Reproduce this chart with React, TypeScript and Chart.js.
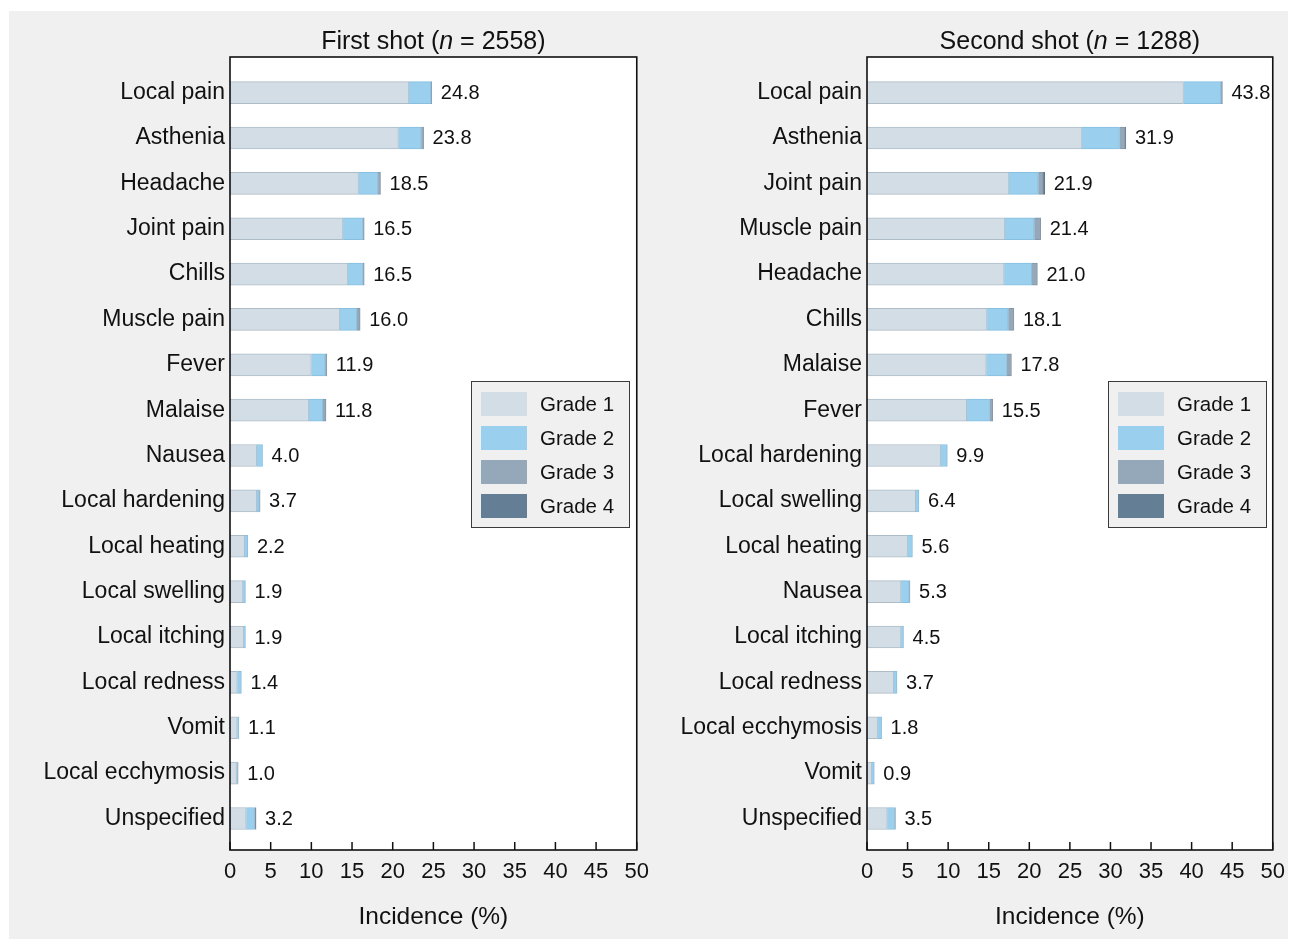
import React, { useEffect, useRef } from 'react';
import { Chart, registerables } from 'chart.js';
Chart.register(...registerables);

const FONT = "'Liberation Sans', Arial, sans-serif";
const GRADE_LABELS = ['Grade 1', 'Grade 2', 'Grade 3', 'Grade 4'];
const GRADE_COLORS = ['#d3dde5', '#9acfee', '#95a8b9', '#647f95'];
const GRADE_BORDERS = ['#aebcc8', '#86bfe0', '#8597a8', '#5a7388'];
const X_TICKS_MIN = 0;
const X_TICKS_MAX = 50;
const X_STEP = 5;

// First shot
const categories1 = ['Local pain', 'Asthenia', 'Headache', 'Joint pain', 'Chills', 'Muscle pain', 'Fever', 'Malaise', 'Nausea', 'Local hardening', 'Local heating', 'Local swelling', 'Local itching', 'Local redness', 'Vomit', 'Local ecchymosis', 'Unspecified'];
const totals1 = [24.8, 23.8, 18.5, 16.5, 16.5, 16.0, 11.9, 11.8, 4.0, 3.7, 2.2, 1.9, 1.9, 1.4, 1.1, 1.0, 3.2];
const grade1_1 = [22.0, 20.7, 15.8, 13.9, 14.5, 13.5, 10.0, 9.7, 3.3, 3.3, 1.8, 1.6, 1.7, 0.9, 0.9, 0.8, 2.0];
const grade2_1 = [2.7, 2.8, 2.4, 2.4, 1.8, 2.1, 1.7, 1.7, 0.7, 0.3, 0.4, 0.3, 0.2, 0.5, 0.2, 0.1, 1.0];
const grade3_1 = [0.1, 0.3, 0.3, 0.2, 0.2, 0.4, 0.2, 0.4, 0, 0.1, 0, 0, 0, 0, 0, 0.1, 0.1];
const grade4_1 = [0, 0, 0, 0, 0, 0, 0, 0, 0, 0, 0, 0, 0, 0, 0, 0, 0.1];

// Second shot
const categories2 = ['Local pain', 'Asthenia', 'Joint pain', 'Muscle pain', 'Headache', 'Chills', 'Malaise', 'Fever', 'Local hardening', 'Local swelling', 'Local heating', 'Nausea', 'Local itching', 'Local redness', 'Local ecchymosis', 'Vomit', 'Unspecified'];
const totals2 = [43.8, 31.9, 21.9, 21.4, 21.0, 18.1, 17.8, 15.5, 9.9, 6.4, 5.6, 5.3, 4.5, 3.7, 1.8, 0.9, 3.5];
const grade1_2 = [39.0, 26.5, 17.5, 17.0, 16.9, 14.8, 14.7, 12.3, 9.1, 6.0, 5.0, 4.2, 4.2, 3.3, 1.3, 0.6, 2.5];
const grade2_2 = [4.6, 4.6, 3.6, 3.6, 3.4, 2.6, 2.5, 2.8, 0.8, 0.4, 0.6, 1.0, 0.3, 0.4, 0.5, 0.3, 0.9];
const grade3_2 = [0.2, 0.7, 0.6, 0.8, 0.7, 0.7, 0.6, 0.4, 0, 0, 0, 0.1, 0, 0, 0, 0, 0.1];
const grade4_2 = [0, 0.1, 0.2, 0, 0, 0, 0, 0, 0, 0, 0, 0, 0, 0, 0, 0, 0];

type PanelProps = {
  left: number;
  width: number;
  yAxisWidth: number;
  padRight: number;
  titleN: string;
  titleLead: string;
  categories: string[];
  grades: number[][];
  totals: number[];
};

function Panel(props: PanelProps) {
  const ref = useRef<HTMLCanvasElement | null>(null);
  useEffect(() => {
    const canvas = ref.current;
    if (!canvas) return;
    const { categories, grades, totals, yAxisWidth, padRight, titleLead, titleN } = props;

    const decor = {
      id: 'decor',
      beforeDraw(chart: any) {
        const { ctx, chartArea: a } = chart;
        ctx.save();
        ctx.fillStyle = '#ffffff';
        ctx.fillRect(a.left, a.top, a.right - a.left, a.bottom - a.top);
        ctx.restore();
      },
      afterDraw(chart: any) {
        const { ctx, chartArea: a } = chart;
        const xs = chart.scales.x;
        const ys = chart.scales.y;
        ctx.save();
        // inner tick marks
        ctx.strokeStyle = '#111';
        ctx.lineWidth = 1.5;
        xs.ticks.forEach((t: any) => {
          const px = xs.getPixelForValue(t.value);
          ctx.beginPath();
          ctx.moveTo(px, a.bottom);
          ctx.lineTo(px, a.bottom - 8);
          ctx.stroke();
        });
        // frame
        ctx.lineWidth = 1.6;
        ctx.strokeRect(a.left, a.top, a.right - a.left, a.bottom - a.top);
        // data labels
        ctx.fillStyle = '#111';
        ctx.font = `20px ${FONT}`;
        ctx.textAlign = 'left';
        ctx.textBaseline = 'middle';
        totals.forEach((v, i) => {
          ctx.fillText(v.toFixed(1), xs.getPixelForValue(v) + 9, ys.getPixelForValue(i) + 1);
        });
        // title
        const titleY = a.top - 15;
        const cx = (a.left + a.right) / 2;
        const normal = `25px ${FONT}`;
        const italic = `italic 25px ${FONT}`;
        const parts: [string, string][] = [[titleLead + ' (', normal], ['n', italic], [' = ' + titleN + ')', normal]];
        let total = 0;
        parts.forEach(([t, f]) => { ctx.font = f; total += ctx.measureText(t).width; });
        let x = cx - total / 2;
        ctx.textBaseline = 'middle';
        parts.forEach(([t, f]) => { ctx.font = f; ctx.fillText(t, x, titleY); x += ctx.measureText(t).width; });
        // legend
        const bx = a.left + 241;
        const by = a.top + 324;
        const bw = 158;
        const bh = 146;
        ctx.fillStyle = '#f0f0f0';
        ctx.fillRect(bx, by, bw, bh);
        ctx.strokeStyle = '#3a3a3a';
        ctx.lineWidth = 1;
        ctx.strokeRect(bx + 0.5, by + 0.5, bw, bh);
        chart.data.datasets.forEach((ds: any, i: number) => {
          const cy = by + 23 + i * 34;
          ctx.fillStyle = ds.backgroundColor;
          ctx.fillRect(bx + 10, cy - 12, 46, 24);
          ctx.fillStyle = '#111';
          ctx.font = `20.5px ${FONT}`;
          ctx.textAlign = 'left';
          ctx.textBaseline = 'middle';
          ctx.fillText(ds.label, bx + 69, cy + 1);
        });
        ctx.restore();
      },
    };

    const chart = new Chart(canvas, {
      type: 'bar',
      data: {
        datasets: grades.map((g, gi) => ({
          label: GRADE_LABELS[gi],
          data: g.map((v, i) => ({ x: v, y: i })),
          backgroundColor: GRADE_COLORS[gi],
          borderColor: GRADE_BORDERS[gi],
          borderWidth: 1,
          barThickness: 22,
        })),
      },
      options: {
        indexAxis: 'y',
        animation: false,
        responsive: false,
        events: [],
        layout: { padding: { top: 46, right: padRight, bottom: 0, left: 0 } },
        plugins: { legend: { display: false }, tooltip: { enabled: false }, title: { display: false } },
        scales: {
          x: {
            type: 'linear',
            stacked: true,
            min: X_TICKS_MIN,
            max: X_TICKS_MAX,
            offset: false,
            grid: { display: false, drawTicks: false },
            border: { display: false },
            ticks: { stepSize: X_STEP, padding: 9, color: '#111', font: { family: FONT, size: 22 }, maxRotation: 0 },
            title: { display: true, text: 'Incidence (%)', color: '#111', font: { family: FONT, size: 24.5 }, padding: { top: 0, bottom: 7 } },
            afterFit: (s: any) => { s.height = 89; },
          },
          y: {
            type: 'linear',
            stacked: true,
            reverse: true,
            offset: false,
            min: -0.785,
            max: 16.695,
            grid: { display: false, drawTicks: false },
            border: { display: false },
            ticks: {
              stepSize: 1,
              autoSkip: false,
              includeBounds: false,
              padding: 5,
              color: '#111',
              font: { family: FONT, size: 23 },
              callback: (v: any) => (Number.isInteger(v) && categories[v] !== undefined ? categories[v] : ''),
            },
            afterFit: (s: any) => { s.width = yAxisWidth; },
          },
        },
      } as any,
      plugins: [decor],
    });
    return () => chart.destroy();
  }, []);
  return (
    <canvas
      ref={ref}
      width={props.width}
      height={928}
      style={{ position: 'absolute', left: props.left, top: 0, width: props.width, height: 928 }}
    />
  );
}

export default function App() {
  return (
    <div style={{ position: 'fixed', left: 0, top: 0, width: 1289, height: 939, background: '#ffffff', overflow: 'hidden' }}>
      <div style={{ position: 'absolute', left: 9, top: 11, width: 1279, height: 928, background: '#f0f0f0', overflow: 'hidden' }}>
        <Panel
          left={0}
          width={649}
          yAxisWidth={221}
          padRight={21}
          titleLead="First shot"
          titleN="2558"
          categories={categories1}
          grades={[grade1_1, grade2_1, grade3_1, grade4_1]}
          totals={totals1}
        />
        <Panel
          left={640}
          width={645}
          yAxisWidth={218}
          padRight={21}
          titleLead="Second shot"
          titleN="1288"
          categories={categories2}
          grades={[grade1_2, grade2_2, grade3_2, grade4_2]}
          totals={totals2}
        />
      </div>
    </div>
  );
}
